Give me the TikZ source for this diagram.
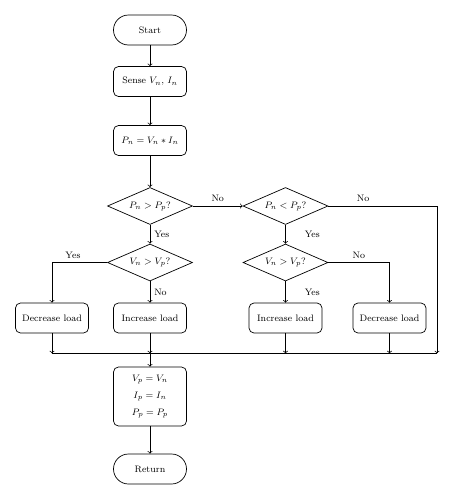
\documentclass[tikz,border=0pt]{standalone}
\usepackage{amsmath}
\usepackage{tikz}
\usetikzlibrary{positioning,shapes.geometric}

\begin{document}
\begin{tikzpicture}[>=to,node distance=1.6cm,on grid,auto,font=\footnotesize,line width=0.6pt,
    term/.style={draw,rounded corners=0.45cm,minimum width=2.19cm,minimum height=0.9cm},
    proc/.style={draw,rounded corners=0.15cm,minimum width=2.19cm,minimum height=0.9cm,align=center},
    cond/.style={draw,diamond,aspect=2.3,inner sep=0pt,minimum width=2.55cm,minimum height=1.11cm}]
    \useasboundingbox (0,0) rectangle (13.65,-15);

    \node[term] (start) at (4.5,-0.9) {Start};
    \node[proc] (sense) [below=1.545cm of start] {Sense $V_n$, $I_n$};
    \node[proc] (power) [below=1.77cm of sense] {$P_n = V_n * I_n$};
    \node[cond] (cmpP) [below=1.965cm of power] {$P_n > P_p$?};
    \node[cond] (cmpPl) [right=4.065cm of cmpP] {$P_n < P_p$?};
    \node[cond] (cmpV) [below=1.695cm of cmpP] {$V_n > V_p$?};
    \node[cond] (cmpVr) [below=1.695cm of cmpPl] {$V_n > V_p$?};
    \node[proc] (inc) [below=1.665cm of cmpV] {Increase load};
    \node[proc] (dec) [left=2.94cm of inc] {Decrease load};
    \node[proc] (incr) [below=1.665cm of cmpVr] {Increase load};
    \node[proc] (decr) [right=3.12cm of incr] {Decrease load};
    \node[proc,minimum height=1.77cm] (update) [below=2.355cm of inc]
        {$V_p = V_n$\\[5pt] $I_p = I_n$\\[5pt] $P_p = P_p$};
    \node[term] (return) [below=2.175cm of update] {Return};

    \coordinate[below=0.6cm of dec.south] (busL);
    \coordinate[right=11.55cm of busL] (busR);

    \path[->]
    (start) edge (sense)
    (sense) edge (power)
    (power) edge (cmpP)
    (cmpP) edge node {No} (cmpPl)
    (cmpP) edge node {Yes} (cmpV)
    (cmpPl) edge node[xshift=0.45cm] {Yes} (cmpVr)
    (cmpV) edge node {No} (inc)
    (cmpVr) edge node[xshift=0.45cm] {Yes} (incr)
    ;

    \draw[->] (cmpV.west) -| node[pos=0.31,above] {Yes} (dec);
    \draw[->] (cmpVr.east) -| node[pos=0.25,above] {No} (decr);
    \draw[->] (cmpPl.east) -| node[pos=0.16,above] {No} (busR);

    \draw (busL) -- (busR);
    \draw[->] (dec) -- (busL);
    \draw[->] (inc) -- (inc |- busL);
    \draw[->] (incr) -- (incr |- busL);
    \draw[->] (decr) -- (decr |- busL);
    \draw[->] (inc |- busL) -- (update);
    \draw[->] (update) -- (return);
\end{tikzpicture}
\end{document}
